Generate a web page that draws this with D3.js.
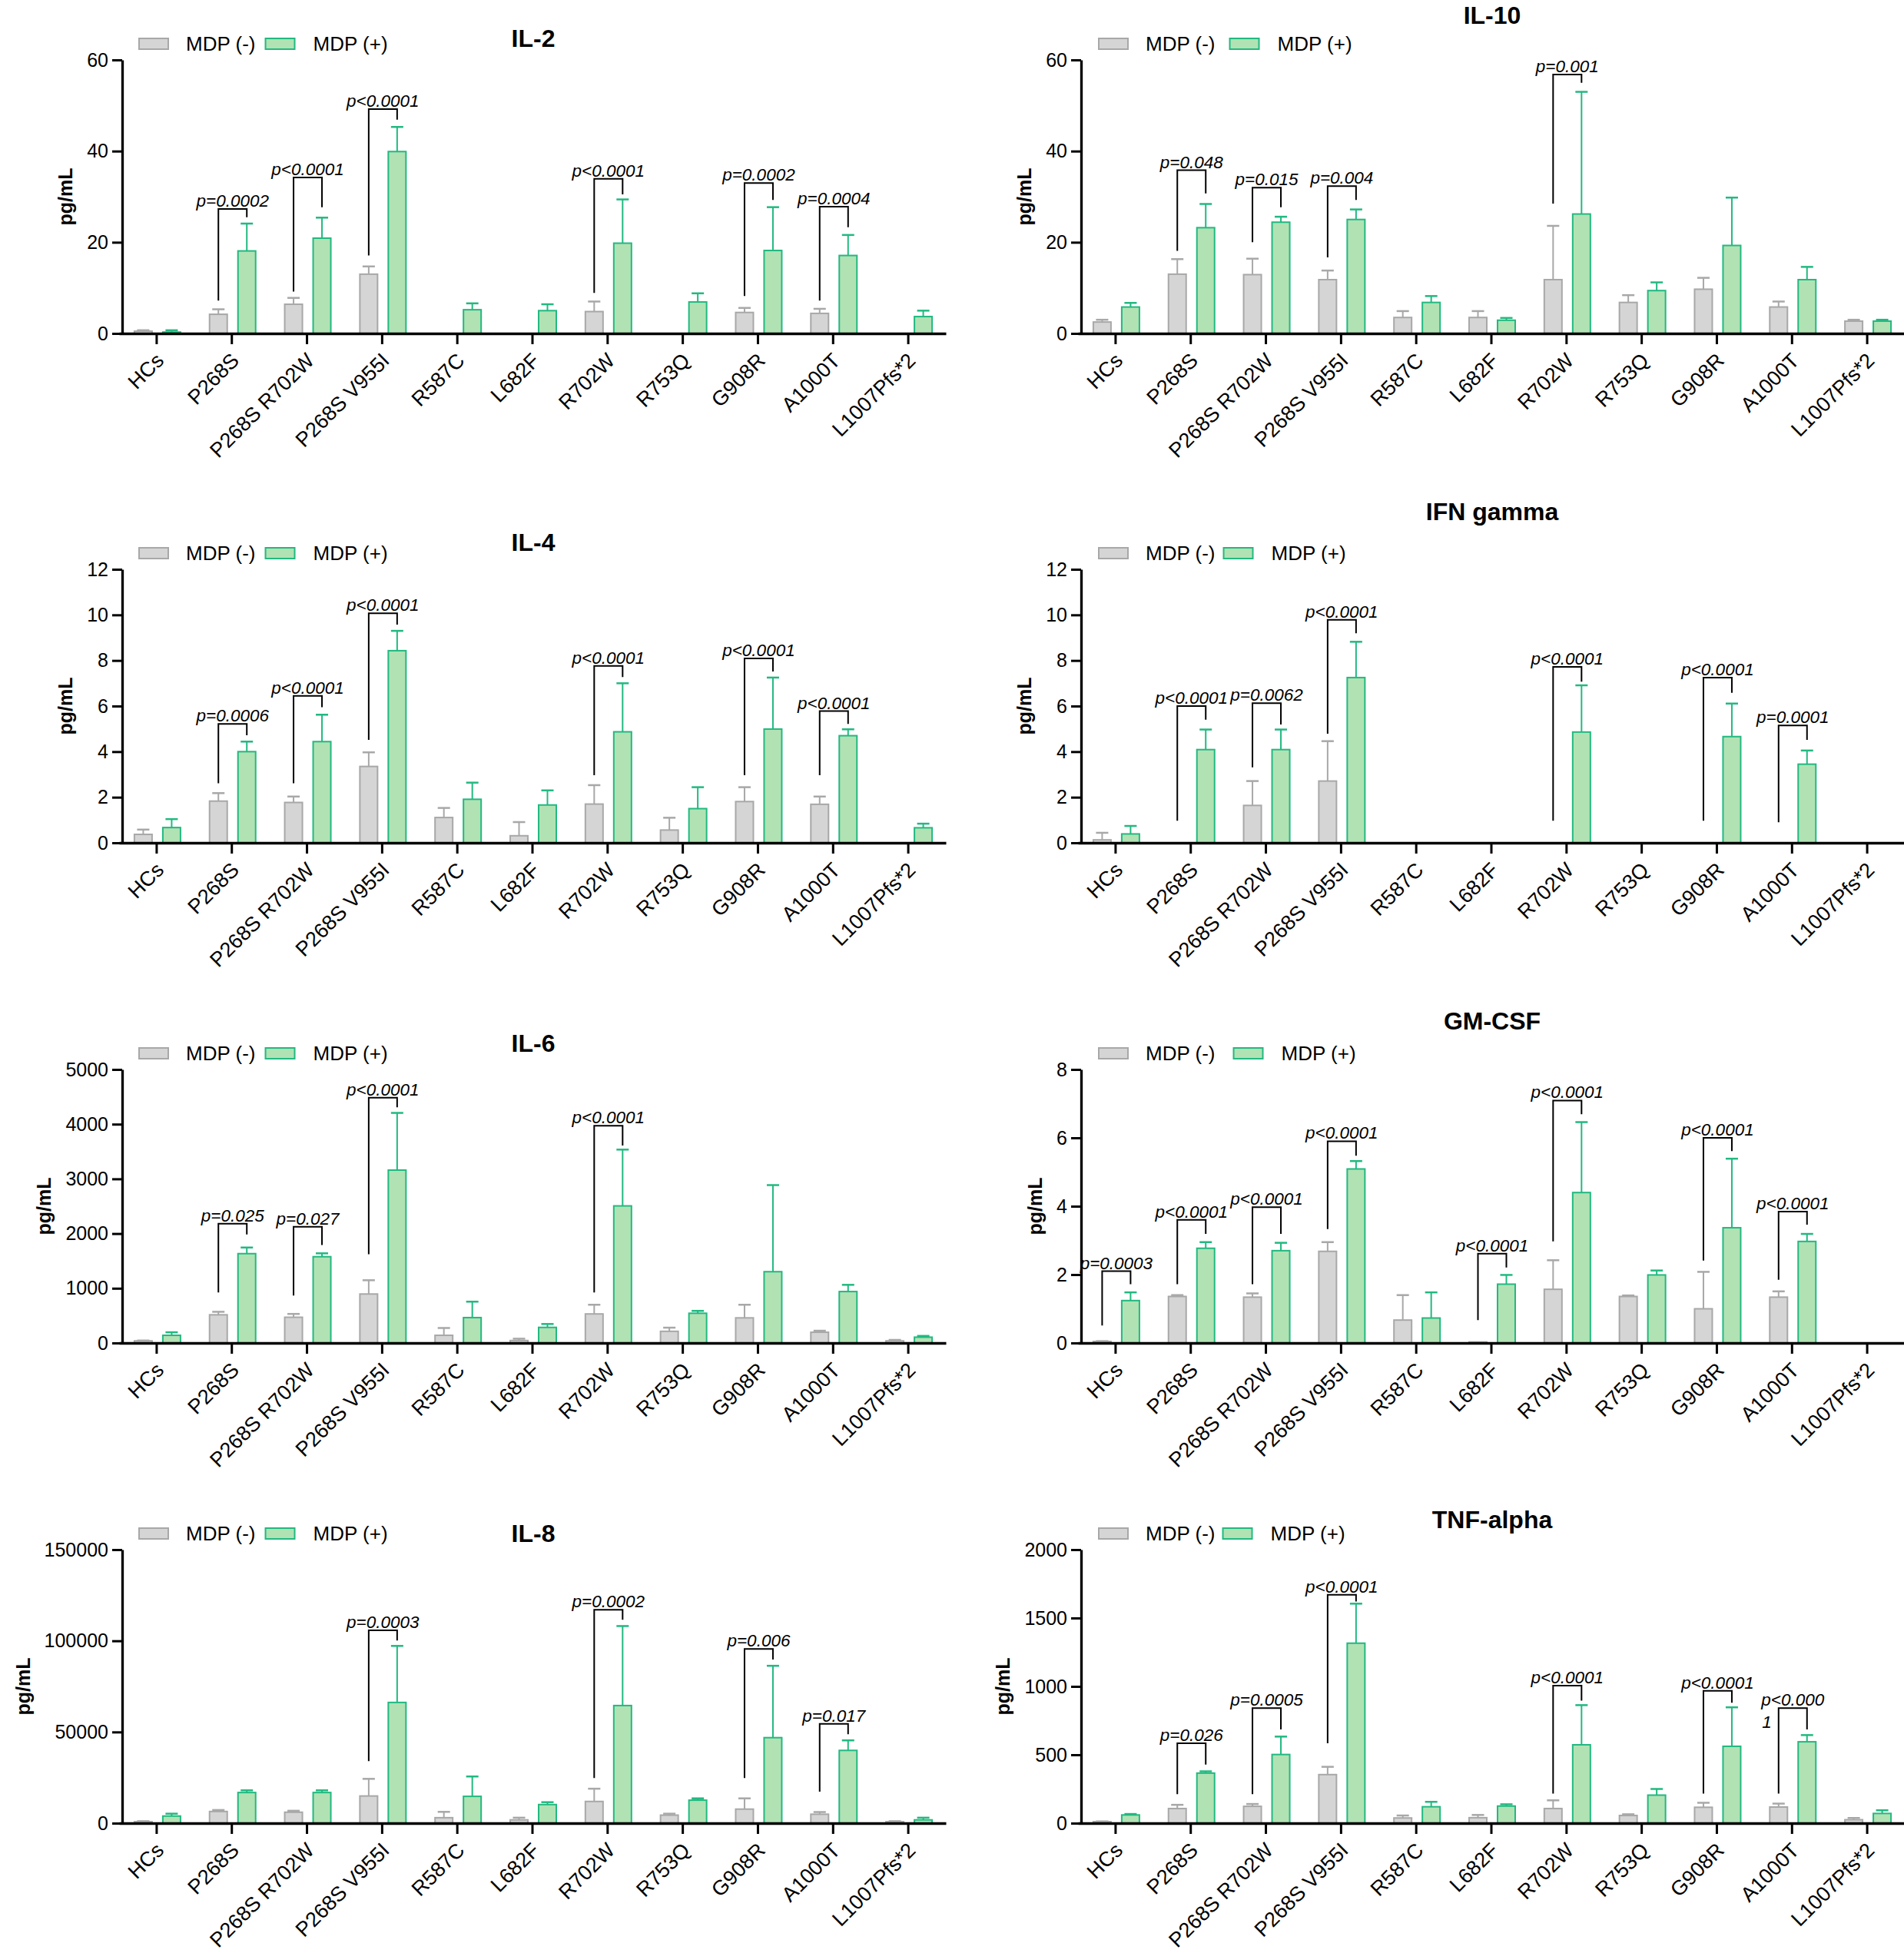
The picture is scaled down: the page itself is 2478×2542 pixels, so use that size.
<!DOCTYPE html>
<html>
<head>
<meta charset="utf-8">
<script src="https://cdn.jsdelivr.net/npm/d3@7"></script>
<style>
  body { margin: 0; background: #fff; }
  svg { display: block; font-family: "Liberation Sans", Arial, sans-serif; }
</style>
</head>
<body>
<svg id="chart" width="2478" height="2542"></svg>
<script>
// categories (genotypes)
var categories = ["HCs", "P268S", "P268S R702W", "P268S V955I", "R587C", "L682F",
                  "R702W", "R753Q", "G908R", "A1000T", "L1007Pfs*2"];
var seriesNames = ["MDP (-)", "MDP (+)"];

// IL-2
var il2Ticks = [0, 20, 40, 60];
var il2Neg   = [0.5, 4.2, 6.4, 13.0, null, null, 4.8, null, 4.6, 4.4, null];
var il2NegSd = [0.2, 1.1, 1.4, 1.7, null, null, 2.2, null, 1.0, 1.0, null];
var il2Pos   = [0.3, 18.1, 20.9, 39.9, 5.2, 5.0, 19.8, 6.9, 18.2, 17.1, 3.7];
var il2PosSd = [0.4, 6.0, 4.5, 5.4, 1.4, 1.4, 9.6, 1.9, 9.5, 4.5, 1.3];
var il2Sig = [[1, "p=0.0002", 27.3, 7.2, 25.5], [2, "p<0.0001", 34.2, 9.2, 27.7],
              [3, "p<0.0001", 49.2, 17.1, 46.9], [6, "p<0.0001", 33.9, 8.9, 30.5],
              [8, "p=0.0002", 33.0, 8.2, 29.3], [9, "p=0.0004", 27.8, 7.2, 23.3]];

// IL-10
var il10Ticks = [0, 20, 40, 60];
var il10Neg   = [2.5, 13.0, 12.9, 11.8, 3.5, 3.5, 11.8, 6.8, 9.7, 5.8, 2.7];
var il10NegSd = [0.5, 3.3, 3.5, 2.0, 1.4, 1.4, 11.8, 1.6, 2.5, 1.2, 0.3];
var il10Pos   = [5.8, 23.2, 24.4, 25.0, 6.8, 2.9, 26.2, 9.4, 19.3, 11.8, 2.7];
var il10PosSd = [0.9, 5.2, 1.2, 2.2, 1.4, 0.5, 26.8, 1.8, 10.5, 2.8, 0.3];
var il10Sig = [[1, "p=0.048", 35.8, 18.1, 30.7], [2, "p=0.015", 32.0, 20.0, 27.7],
               [3, "p=0.004", 32.3, 16.7, 29.3], [6, "p=0.001", 56.8, 28.5, 55.0]];

// IL-4
var il4Ticks = [0, 2, 4, 6, 8, 10, 12];
var il4Neg   = [0.37, 1.83, 1.77, 3.35, 1.11, 0.31, 1.70, 0.56, 1.81, 1.69, null];
var il4NegSd = [0.21, 0.35, 0.26, 0.62, 0.42, 0.60, 0.83, 0.54, 0.63, 0.34, null];
var il4Pos   = [0.67, 4.0, 4.44, 8.43, 1.91, 1.66, 4.87, 1.50, 4.99, 4.70, 0.66];
var il4PosSd = [0.37, 0.44, 1.18, 0.87, 0.73, 0.64, 2.13, 0.94, 2.26, 0.28, 0.18];
var il4Sig = [[1, "p=0.0006", 5.22, 2.61, 4.72], [2, "p<0.0001", 6.45, 2.61, 5.95],
              [3, "p<0.0001", 10.07, 4.52, 9.57], [6, "p<0.0001", 7.76, 2.97, 7.27],
              [8, "p<0.0001", 8.09, 2.97, 7.52], [9, "p<0.0001", 5.78, 2.97, 5.22]];

// IFN gamma
var ifnTicks = [0, 2, 4, 6, 8, 10, 12];
var ifnNeg   = [0.13, null, 1.64, 2.71, null, null, null, null, null, null, null];
var ifnNegSd = [0.31, null, 1.07, 1.75, null, null, null, null, null, null, null];
var ifnPos   = [0.39, 4.09, 4.09, 7.25, null, null, 4.86, null, 4.66, 3.45, null];
var ifnPosSd = [0.35, 0.88, 0.88, 1.57, null, null, 2.05, null, 1.45, 0.60, null];
var ifnSig = [[1, "p<0.0001", 6.0, 0.97, 5.40], [2, "p=0.0062", 6.13, 3.31, 5.19],
              [3, "p<0.0001", 9.78, 4.79, 9.19], [6, "p<0.0001", 7.72, 0.97, 7.07],
              [8, "p<0.0001", 7.25, 0.97, 6.58], [9, "p=0.0001", 5.15, 0.90, 4.52]];

// IL-6
var il6Ticks = [0, 1000, 2000, 3000, 4000, 5000];
var il6Neg   = [39, 515, 470, 895, 140, 45, 531, 213, 459, 196, 39];
var il6NegSd = [6, 55, 61, 252, 134, 33, 168, 67, 240, 28, 17];
var il6Pos   = [140, 1633, 1577, 3160, 464, 285, 2506, 543, 1303, 940, 106];
var il6PosSd = [56, 112, 62, 1046, 291, 62, 1029, 44, 1583, 123, 23];
var il6Sig = [[1, "p=0.025", 2181, 923, 1985], [2, "p=0.027", 2125, 867, 1790],
              [3, "p<0.0001", 4485, 1622, 4307], [6, "p<0.0001", 3971, 923, 3608]];

// GM-CSF
var gmTicks = [0, 2, 4, 6, 8];
var gmNeg   = [0.045, 1.36, 1.34, 2.68, 0.67, 0.03, 1.57, 1.36, 1.00, 1.34, null];
var gmNegSd = [0.01, 0.04, 0.11, 0.27, 0.73, 0, 0.85, 0.03, 1.08, 0.17, null];
var gmPos   = [1.24, 2.77, 2.70, 5.09, 0.73, 1.72, 4.40, 1.99, 3.37, 2.97, null];
var gmPosSd = [0.24, 0.18, 0.23, 0.23, 0.75, 0.27, 2.06, 0.13, 2.02, 0.22, null];
var gmSig = [[0, "p=0.0003", 2.10, 0.51, 1.72], [1, "p<0.0001", 3.60, 1.72, 3.19],
             [2, "p<0.0001", 3.97, 1.72, 3.19], [3, "p<0.0001", 5.90, 3.33, 5.48],
             [5, "p<0.0001", 2.61, 0.67, 2.21], [6, "p<0.0001", 7.09, 2.97, 6.69],
             [8, "p<0.0001", 6.00, 2.41, 5.61], [9, "p<0.0001", 3.84, 1.85, 3.46]];

// IL-8
var il8Ticks = [0, 50000, 100000, 150000];
var il8Neg   = [800, 6400, 6000, 14900, 3000, 1800, 11900, 4400, 7700, 4900, 800];
var il8NegSd = [300, 800, 800, 9400, 3200, 1200, 7000, 800, 5900, 1200, 300];
var il8Pos   = [3900, 16800, 16800, 66200, 14700, 10200, 64500, 12600, 46900, 39900, 1800];
var il8PosSd = [1300, 1200, 1200, 31000, 10900, 1300, 43600, 1000, 39400, 5500, 1200];
var il8Sig = [[3, "p=0.0003", 105800, 34000, 100200], [6, "p=0.0002", 117000, 24800, 111500],
              [8, "p=0.006", 95500, 24800, 89700], [9, "p=0.017", 54500, 17300, 48800]];

// TNF-alpha
var tnfTicks = [0, 500, 1000, 1500, 2000];
var tnfNeg   = [11, 107, 123, 355, 38, 40, 107, 56, 116, 118, 25];
var tnfNegSd = [2, 27, 17, 57, 18, 20, 60, 9, 33, 25, 13];
var tnfPos   = [60, 366, 502, 1316, 120, 125, 573, 205, 562, 595, 71];
var tnfPosSd = [7, 13, 131, 289, 36, 13, 290, 45, 285, 49, 23];
var tnfSig = [[1, "p=0.026", 584, 212, 428], [2, "p=0.0005", 841, 212, 685],
              [3, "p<0.0001", 1670, 584, 1621], [6, "p<0.0001", 1006, 216, 896],
              [8, "p<0.0001", 968, 216, 881], [9, "p<0.000\n1", 841, 216, 685]];

// layout of the 8 panels
var colX = [159, 1407];
var rowTop = [78, 741, 1392, 2017];
var plotH = 356;

var panels = [
  {title: "IL-2", col: 0, row: 0, titleDy: -28, legGap: 13, ticks: il2Ticks, neg: il2Neg, negSd: il2NegSd, pos: il2Pos, posSd: il2PosSd, sig: il2Sig},
  {title: "IL-4", col: 0, row: 1, titleDy: -35, legGap: 13, ticks: il4Ticks, neg: il4Neg, negSd: il4NegSd, pos: il4Pos, posSd: il4PosSd, sig: il4Sig},
  {title: "IL-6", col: 0, row: 2, titleDy: -34, legGap: 13, ticks: il6Ticks, neg: il6Neg, negSd: il6NegSd, pos: il6Pos, posSd: il6PosSd, sig: il6Sig},
  {title: "IL-8", col: 0, row: 3, titleDy: -21, legGap: 13, ticks: il8Ticks, neg: il8Neg, negSd: il8NegSd, pos: il8Pos, posSd: il8PosSd, sig: il8Sig},
  {title: "IL-10", col: 1, row: 0, titleDy: -58, legGap: 19, ticks: il10Ticks, neg: il10Neg, negSd: il10NegSd, pos: il10Pos, posSd: il10PosSd, sig: il10Sig},
  {title: "IFN gamma", col: 1, row: 1, titleDy: -75, legGap: 11, ticks: ifnTicks, neg: ifnNeg, negSd: ifnNegSd, pos: ifnPos, posSd: ifnPosSd, sig: ifnSig},
  {title: "GM-CSF", col: 1, row: 2, titleDy: -63, legGap: 24, ticks: gmTicks, neg: gmNeg, negSd: gmNegSd, pos: gmPos, posSd: gmPosSd, sig: gmSig},
  {title: "TNF-alpha", col: 1, row: 3, titleDy: -39, legGap: 10, ticks: tnfTicks, neg: tnfNeg, negSd: tnfNegSd, pos: tnfPos, posSd: tnfPosSd, sig: tnfSig}
];

var colors = {
  neg: {fill: "#d5d5d5", stroke: "#a8a8a8"},
  pos: {fill: "#b1e2b4", stroke: "#22b980"}
};

var svg = d3.select("#chart");
svg.append("rect").attr("width", 2478).attr("height", 2542).attr("fill", "#fff");

panels.forEach(drawPanel);

function drawPanel(p) {
  var ax = colX[p.col];
  var top = rowTop[p.row];
  var zero = top + plotH;
  var g = svg.append("g");

  var x = d3.scaleBand().domain(categories).range([ax - 4, ax + 1072]).padding(0);
  var xs = d3.scaleBand().domain(["neg", "pos"]).range([-29, 31]).paddingInner(0.378);
  var y = d3.scaleLinear().domain([0, d3.max(p.ticks)]).range([zero, top]);
  var cx = function(i) { return x(categories[i]) + x.bandwidth() / 2; };

  // bars + error bars (upper only)
  ["neg", "pos"].forEach(function(s) {
    var vals = p[s], sds = p[s + "Sd"];
    var rows = [];
    vals.forEach(function(v, i) { if (v !== null) rows.push({i: i, v: v, sd: sds[i] || 0}); });
    var bg = g.append("g");
    bg.selectAll("rect").data(rows).enter().append("rect")
      .attr("x", function(d) { return cx(d.i) + xs(s); })
      .attr("y", function(d) { return y(d.v); })
      .attr("width", xs.bandwidth())
      .attr("height", function(d) { return zero - y(d.v); })
      .attr("fill", colors[s].fill)
      .attr("stroke", colors[s].stroke)
      .attr("stroke-width", 2);
    var eb = rows.filter(function(d) { return d.sd > 0; });
    bg.selectAll("line.err").data(eb).enter().append("line").attr("class", "err")
      .attr("x1", function(d) { return cx(d.i) + xs(s) + xs.bandwidth() / 2; })
      .attr("x2", function(d) { return cx(d.i) + xs(s) + xs.bandwidth() / 2; })
      .attr("y1", function(d) { return y(d.v); })
      .attr("y2", function(d) { return y(d.v + d.sd); })
      .attr("stroke", colors[s].stroke).attr("stroke-width", 2);
    bg.selectAll("line.cap").data(eb).enter().append("line").attr("class", "cap")
      .attr("x1", function(d) { return cx(d.i) + xs(s) + xs.bandwidth() / 2 - 8; })
      .attr("x2", function(d) { return cx(d.i) + xs(s) + xs.bandwidth() / 2 + 8; })
      .attr("y1", function(d) { return y(d.v + d.sd); })
      .attr("y2", function(d) { return y(d.v + d.sd); })
      .attr("stroke", colors[s].stroke).attr("stroke-width", 2.5);
  });

  // y axis
  var ya = g.append("g").attr("transform", "translate(" + ax + ",0)")
    .call(d3.axisLeft(y).tickValues(p.ticks).tickSize(13).tickSizeOuter(0).tickPadding(5).tickFormat(d3.format("d")));
  ya.select(".domain").attr("stroke", "#000").attr("stroke-width", 3.3);
  ya.selectAll(".tick line").attr("stroke", "#000").attr("stroke-width", 3);
  ya.selectAll(".tick text").attr("font-size", 25).attr("fill", "#000")
    .attr("font-family", "'Liberation Sans', Arial, sans-serif");

  // x axis
  var xa = g.append("g").attr("transform", "translate(0," + zero + ")")
    .call(d3.axisBottom(x).tickSize(14).tickSizeOuter(0));
  xa.select(".domain").attr("stroke", "#000").attr("stroke-width", 3.5);
  xa.selectAll(".tick line").attr("stroke", "#000").attr("stroke-width", 3);
  xa.selectAll(".tick text")
    .attr("x", 0).attr("y", 0).attr("dy", null)
    .attr("text-anchor", "end")
    .attr("transform", "translate(11,37) rotate(-45)")
    .attr("font-size", 27).attr("fill", "#000")
    .attr("font-family", "'Liberation Sans', Arial, sans-serif");

  // y label
  var bb = ya.node().getBBox();
  var lx = ax + bb.x - 28;
  g.append("text")
    .attr("transform", "translate(" + lx + "," + (top + plotH / 2) + ") rotate(-90)")
    .attr("text-anchor", "middle").attr("dominant-baseline", "central")
    .attr("font-size", 25).attr("font-weight", "bold")
    .text("pg/mL");

  // title
  g.append("text")
    .attr("x", ax + 535).attr("y", top + p.titleDy + 11)
    .attr("text-anchor", "middle")
    .attr("font-size", 32).attr("font-weight", "bold")
    .text(p.title);

  // legend
  var ly = top - 21;
  var bx = ax + 22 + p.col;
  g.append("rect").attr("x", bx).attr("y", ly - 7).attr("width", 38).attr("height", 14)
    .attr("fill", colors.neg.fill).attr("stroke", colors.neg.stroke).attr("stroke-width", 2);
  var t1 = g.append("text").attr("x", bx + 61).attr("y", ly + 9)
    .attr("font-size", 26).text(seriesNames[0]);
  var bx2 = bx + 61 + t1.node().getComputedTextLength() + p.legGap;
  g.append("rect").attr("x", bx2).attr("y", ly - 7).attr("width", 38).attr("height", 14)
    .attr("fill", colors.pos.fill).attr("stroke", colors.pos.stroke).attr("stroke-width", 2);
  g.append("text").attr("x", bx2 + 62).attr("y", ly + 9)
    .attr("font-size", 26).text(seriesNames[1]);

  // significance brackets
  p.sig.forEach(function(s) {
    var c = cx(s[0]);
    var xl = c + xs("neg") + xs.bandwidth() / 2;
    var xr = c + xs("pos") + xs.bandwidth() / 2;
    var yb = y(s[2]);
    g.append("path")
      .attr("d", "M" + xl + "," + y(s[3]) + "V" + yb + "H" + xr + "V" + y(s[4]))
      .attr("fill", "none").attr("stroke", "#000").attr("stroke-width", 2);
    var lines = s[1].split("\n");
    var t = g.append("text")
      .attr("x", (xl + xr) / 2).attr("y", yb - 3)
      .attr("text-anchor", "middle")
      .attr("font-size", 22.5).attr("font-style", "italic")
      .text(lines[0]);
    if (lines.length > 1) {
      var tb = t.node().getBBox();
      lines.slice(1).forEach(function(l, k) {
        g.append("text")
          .attr("x", tb.x + 2).attr("y", yb - 3 + 29 * (k + 1))
          .attr("font-size", 22.5).attr("font-style", "italic")
          .text(l);
      });
    }
  });
}
</script>
</body>
</html>
